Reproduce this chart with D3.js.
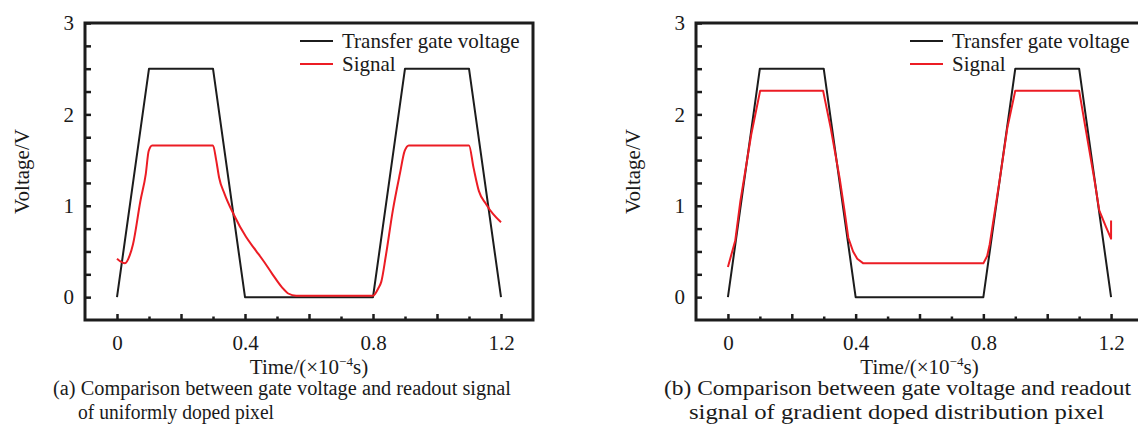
<!DOCTYPE html>
<html>
<head>
<meta charset="utf-8">
<script src="https://cdn.jsdelivr.net/npm/d3@7"></script>
<style>
body { margin: 0; background: #fff; }
svg { display: block; }
text { font-family: "Liberation Serif", "Times New Roman", serif; fill: #1a1a1a; }
</style>
</head>
<body>
<svg id="chart" width="1138" height="437"></svg>
<script>
// values (time in 1e-4 s, voltage in V)
var gateTime = [0, 0.1, 0.3, 0.4, 0.8, 0.9, 1.1, 1.2];
var gateVolt = [0, 2.5, 2.5, 0, 0, 2.5, 2.5, 0];

var sigATime = [0, 0.025, 0.04, 0.05, 0.073, 0.09, 0.099, 0.11, 0.3, 0.31, 0.319, 0.336, 0.364, 0.403, 0.434, 0.459, 0.486, 0.515, 0.535, 0.56, 0.8, 0.817, 0.826, 0.84, 0.862, 0.884, 0.899, 0.912, 1.1, 1.114, 1.131, 1.153, 1.175, 1.2];
var sigAVolt = [0.42, 0.37, 0.46, 0.58, 1.05, 1.35, 1.6, 1.66, 1.66, 1.5, 1.31, 1.13, 0.91, 0.66, 0.51, 0.39, 0.25, 0.11, 0.04, 0.015, 0.015, 0.1, 0.17, 0.45, 0.95, 1.35, 1.6, 1.66, 1.66, 1.42, 1.16, 1.02, 0.91, 0.82];

var sigBTime = [0, 0.023, 0.039, 0.073, 0.101, 0.298, 0.322, 0.35, 0.365, 0.377, 0.392, 0.405, 0.424, 0.8, 0.812, 0.82, 0.851, 0.875, 0.9, 1.1, 1.12, 1.148, 1.163, 1.184, 1.2, 1.2];
var sigBVolt = [0.33, 0.62, 1.05, 1.78, 2.26, 2.26, 1.85, 1.3, 0.95, 0.65, 0.5, 0.42, 0.37, 0.37, 0.45, 0.58, 1.28, 1.85, 2.26, 2.26, 1.85, 1.28, 0.95, 0.77, 0.64, 0.84];

var xTickLabels = [0, 0.4, 0.8, 1.2];
var yTickLabels = [0, 1, 2, 3];
var seriesNames = ["Transfer gate voltage", "Signal"];
var captionA = ["(a) Comparison between gate voltage and readout signal", "of uniformly doped pixel"];
var captionB = ["(b) Comparison between gate voltage and readout", "signal of gradient doped distribution pixel"];

var svg = d3.select("#chart");
var top_ = 23, bottom = 320;
var black = "#1c1c1c", red = "#ec1c24";

var drawPanel = function(left, right, sigTime, sigVolt, sigCurve, caption, capWidths) {
    var x = d3.scaleLinear().domain([-0.1, 1.3]).range([left, right]);
    var y = d3.scaleLinear().domain([-0.25, 3]).range([bottom, top_]);
    var g = svg.append("g");

    // minor x ticks (odd tenths)
    var xAll = d3.range(0, 13).map(function(i) { return i / 10; });
    g.append("g")
        .attr("transform", "translate(0," + bottom + ")")
        .call(d3.axisBottom(x).tickValues(xAll.filter(function(d, i) { return i % 2 == 1; }))
              .tickSize(-3.5).tickFormat(""))
        .call(function(a) { a.select(".domain").remove(); });
    // major x ticks + labels
    g.append("g")
        .attr("transform", "translate(0," + bottom + ")")
        .call(d3.axisBottom(x).tickValues(xAll.filter(function(d, i) { return i % 2 == 0; }))
              .tickSize(-6).tickPadding(15)
              .tickFormat(function(d) { return xTickLabels.some(function(v) { return Math.abs(v - d) < 1e-9; }) ? String(+d.toFixed(1)) : ""; }))
        .call(function(a) { a.select(".domain").remove(); });

    // y ticks every 0.25, labels at integers
    g.append("g")
        .attr("transform", "translate(" + left + ",0)")
        .call(d3.axisLeft(y).tickValues(d3.range(0, 13).map(function(i) { return i * 0.25; }))
              .tickSize(-6).tickPadding(11)
              .tickFormat(function(d) { return yTickLabels.indexOf(d) >= 0 ? String(d) : ""; }))
        .call(function(a) { a.select(".domain").remove(); });

    g.selectAll(".tick line").attr("stroke", black).attr("stroke-width", 2.5);
    g.selectAll(".tick text").attr("font-size", 21).attr("fill", black);

    // frame
    g.append("rect")
        .attr("x", left).attr("y", top_)
        .attr("width", right - left).attr("height", bottom - top_)
        .attr("fill", "none").attr("stroke", black).attr("stroke-width", 3);

    var line = d3.line().x(function(d) { return x(d[0]); }).y(function(d) { return y(d[1]); });
    g.append("path")
        .datum(d3.zip(gateTime, gateVolt))
        .attr("d", line).attr("fill", "none")
        .attr("stroke", black).attr("stroke-width", 2).attr("stroke-linejoin", "round");
    g.append("path")
        .datum(d3.zip(sigTime, sigVolt))
        .attr("d", line.curve(sigCurve)).attr("fill", "none")
        .attr("stroke", red).attr("stroke-width", 2).attr("stroke-linejoin", "round");

    // legend
    var lx = right - 233;
    [black, red].forEach(function(c, i) {
        var ly = 41 + i * 23;
        g.append("line").attr("x1", lx).attr("x2", lx + 33).attr("y1", ly).attr("y2", ly)
            .attr("stroke", c).attr("stroke-width", 2);
        g.append("text").attr("x", lx + 42).attr("y", ly + 6.5)
            .attr("font-size", 21).text(seriesNames[i]);
    });

    // axis titles
    g.append("text")
        .attr("transform", "translate(" + (left - 56) + "," + ((top_ + bottom) / 2) + ") rotate(-90)")
        .attr("text-anchor", "middle").attr("font-size", 21).text("Voltage/V");
    var t = g.append("text")
        .attr("x", (left + right) / 2).attr("y", 374)
        .attr("text-anchor", "middle").attr("font-size", 21);
    t.append("tspan").text("Time/(×10");
    t.append("tspan").attr("font-size", 13).attr("dy", -8).text("−4");
    t.append("tspan").attr("dy", 8).text("s)");

    // caption
    g.append("text").attr("x", left - 32).attr("y", 395).attr("font-size", 20)
        .attr("textLength", capWidths[0]).attr("lengthAdjust", "spacingAndGlyphs").text(caption[0]);
    g.append("text").attr("x", left - 7).attr("y", 419).attr("font-size", 20)
        .attr("textLength", capWidths[1]).attr("lengthAdjust", "spacingAndGlyphs").text(caption[1]);
};

drawPanel(85, 533, sigATime, sigAVolt, d3.curveMonotoneX, captionA, [458, 196]);
drawPanel(696, 1143, sigBTime, sigBVolt, d3.curveLinear, captionB, [467, 415]);
</script>
</body>
</html>
